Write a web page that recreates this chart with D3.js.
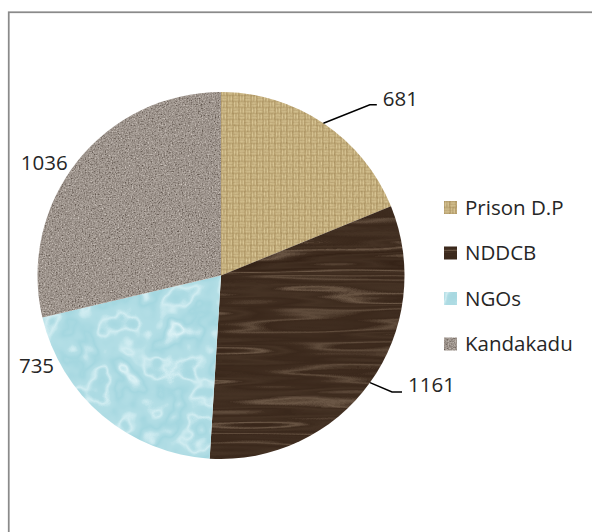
<!DOCTYPE html>
<html>
<head>
<meta charset="utf-8">
<script src="https://cdn.jsdelivr.net/npm/d3@7/dist/d3.min.js"></script>
<style>
  html, body { margin: 0; padding: 0; background: #ffffff; }
  svg { display: block; }
  text { font-family: "Open Sans", "Noto Sans", sans-serif; fill: #262626; }
</style>
</head>
<body>
<svg id="chart" width="592" height="532"></svg>
<script>
// Source counts per programme
const categories = ["Prison D.P", "NDDCB", "NGOs", "Kandakadu"];
const values = [681, 1161, 735, 1036];
const textures = ["burlap", "wood", "water", "granite"];

const W = 592, H = 532;
const cx = 221, cy = 275.5, R = 183.5;

const svg = d3.select("#chart");
const defs = svg.append("defs");

// ---- surface textures ----
function noiseFilter(id, freq, octaves, seed, table, dark, light) {
  const f = defs.append("filter").attr("id", id)
    .attr("x", "-5%").attr("y", "-5%").attr("width", "110%").attr("height", "110%")
    .attr("color-interpolation-filters", "sRGB");
  f.append("feTurbulence").attr("type", "fractalNoise")
    .attr("baseFrequency", freq).attr("numOctaves", octaves).attr("seed", seed).attr("result", "n");
  const ct = f.append("feComponentTransfer").attr("in", "n").attr("result", "t");
  ct.append("feFuncR").attr("type", "table").attr("tableValues", table);
  const m = [
    [light[0] - dark[0], 0, 0, 0, dark[0]],
    [light[1] - dark[1], 0, 0, 0, dark[1]],
    [light[2] - dark[2], 0, 0, 0, dark[2]],
    [0, 0, 0, 0, 1]
  ].map(r => r.join(" ")).join(" ");
  f.append("feColorMatrix").attr("in", "t").attr("type", "matrix").attr("values", m).attr("result", "c");
  f.append("feComposite").attr("in", "c").attr("in2", "SourceGraphic").attr("operator", "in");
}
const rgb = h => { const c = d3.rgb(h); return [c.r / 255, c.g / 255, c.b / 255]; };

// speckled stone
noiseFilter("tex-granite", "0.7", 3, 4, "0 0.12 0.38 0.52 0.64 0.82 1", rgb("#51463e"), rgb("#e4dcd5"));
// wood grain: thin light contour bands of stretched noise over dark brown
noiseFilter("tex-wood", "0.003 0.045", 3, 7,
  "0.05 0.1 0.05 0.45 0.05 0.12 0.0 0.1 0.5 0.08 0.15 0.05 0.1 0.4 0.05 0.1 0.02 0.12 0.55 0.1 0.05",
  rgb("#352317"), rgb("#a08a73"));
// water droplets
noiseFilter("tex-water", "0.028", 3, 11,
  "0.45 0.42 0.55 0.9 0.5 0.35 0.45 0.5 0.8 0.45 0.38 0.5 0.85 0.45",
  rgb("#82c6d2"), rgb("#e4f6f9"));
// fibre grain laid over the woven pattern
noiseFilter("tex-fibre", "0.45", 2, 9, "0.1 0.4 0.5 0.6 0.9", rgb("#4a3414"), rgb("#fff4cc"));

// woven burlap pattern
const weave = defs.append("pattern").attr("id", "tex-burlap")
  .attr("patternUnits", "userSpaceOnUse").attr("width", 12).attr("height", 12);
weave.append("rect").attr("width", 12).attr("height", 12).attr("fill", "#a2844c");
const thread = "#ead6a0";
[[0, 0, "h"], [6, 0, "v"], [0, 6, "v"], [6, 6, "h"]].forEach(([x, y, o]) => {
  for (let k = 0; k < 2; k++) {
    if (o === "h") weave.append("rect").attr("x", x + 0.3).attr("y", y + 0.5 + k * 2.8).attr("width", 5.4).attr("height", 2.1).attr("fill", thread);
    else weave.append("rect").attr("x", x + 0.5 + k * 2.8).attr("y", y + 0.3).attr("width", 2.1).attr("height", 5.4).attr("fill", thread);
  }
});

function paint(sel, tex, shape) {
  if (tex === "burlap") {
    sel.append(shape).attr("fill", "url(#tex-burlap)");
    sel.append(shape).attr("fill", "#000").attr("filter", "url(#tex-fibre)").attr("opacity", 0.3);
  } else {
    sel.append(shape).attr("fill", "#000").attr("filter", `url(#tex-${tex})`);
  }
}

// ---- frame ----
svg.append("rect").attr("x", 8.75).attr("y", 12.25).attr("width", 700).attr("height", 700)
  .attr("fill", "none").attr("stroke", "#8a8a8a").attr("stroke-width", 1.75);

// ---- pie ----
const pie = d3.pie().sort(null).value(d => d.value);
const data = categories.map((c, i) => ({ name: c, value: values[i], tex: textures[i] }));
const arcs = pie(data);
const arc = d3.arc().innerRadius(0).outerRadius(R);
const edge = d3.arc().innerRadius(R).outerRadius(R);

const g = svg.append("g").attr("transform", `translate(${cx},${cy})`);
arcs.forEach(a => {
  const s = g.append("g");
  paint(s, a.data.tex, "path");
  s.selectAll("path").attr("d", arc(a));
});

// ---- data labels ----
// offsets from each slice's rim midpoint: leader elbow/end points and text anchor
const labelLayout = [
  { leader: [[46.4, -18.4], [53.4, -18.4]], text: [59.4, -16.9], anchor: "start" },
  { leader: [[22, 9.4], [32, 9.4]], text: [38, 9], anchor: "start" },
  { leader: null, text: [-48.6, -42.7], anchor: "end" },
  { leader: null, text: [-9.5, 8.5], anchor: "end" }
];
arcs.forEach((a, i) => {
  const [ex, ey] = edge.centroid(a);
  const L = labelLayout[i];
  if (L.leader) {
    const pts = [[ex, ey]].concat(L.leader.map(([dx, dy]) => [ex + dx, ey + dy]));
    g.append("path").attr("d", d3.line()(pts))
      .attr("fill", "none").attr("stroke", "#000").attr("stroke-width", 1.5);
  }
  g.append("text").attr("x", ex + L.text[0]).attr("y", ey + L.text[1])
    .attr("text-anchor", L.anchor).attr("font-size", 20.5).text(a.data.value);
});

// ---- legend ----
const legend = svg.append("g").attr("transform", "translate(444,207.5)");
const step = 45.5;
data.forEach((d, i) => {
  const row = legend.append("g").attr("transform", `translate(0,${i * step})`);
  const sw = row.append("g");
  paint(sw, d.tex, "rect");
  sw.selectAll("rect").attr("x", 0).attr("y", -6.5).attr("width", 13).attr("height", 13);
  row.append("text").attr("x", 21).attr("y", 0).attr("dy", "0.35em")
    .attr("font-size", 20.5).text(d.name);
});
</script>
</body>
</html>
